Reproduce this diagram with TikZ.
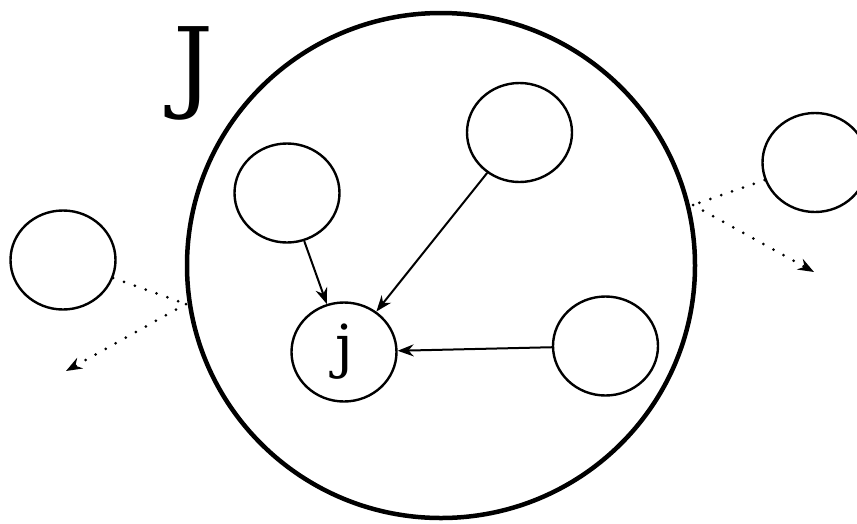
\documentclass[tikz,border=0pt]{standalone}
\usepackage{fontspec}
\setmainfont{DejaVu Serif}
\usetikzlibrary{shapes.geometric, arrows.meta}

\begin{document}
\begin{tikzpicture}[x = 1pt, y = -1pt]
	\tikzstyle {bubble} = [draw, ellipse, line width = 2.4pt, inner sep = 0pt, minimum width = 105pt, minimum height = 99pt];
	\tikzstyle {link} = [line width = 2pt, -{Stealth[length = 16pt, width = 12pt]}];
	\tikzstyle {leak} = [line width = 3pt, line cap = round, dash pattern = on 0pt off 11.5pt];
	\useasboundingbox (0, 0) rectangle (857, 523);
	\node[draw, ellipse, line width = 4.5pt, inner sep = 0pt, minimum width = 508pt, minimum height = 505pt] (group) at (441, 265.5) {};
	\node[anchor = base, inner sep = 0pt, font = \fontsize{100}{100}\selectfont] (grouplabel) at (194, 99) {J};
	\node[bubble, font = \fontsize{58}{58}\selectfont] (j) at (344, 352) {j};
	\node[bubble] (in1) at (287, 193) {};
	\node[bubble] (in2) at (519.5, 132.5) {};
	\node[bubble] (in3) at (605.5, 346) {};
	\node[bubble] (out1) at (63, 260) {};
	\node[bubble] (out2) at (815, 162.5) {};
	\foreach \src in {in1, in2, in3} {
			\draw[link] (\src) -- (j);
		}
	\coordinate (lp) at (186, 304);
	\coordinate (lend) at (66, 371);
	\coordinate (rp) at (693, 205);
	\coordinate (rend) at (814, 272);
	\draw[leak] (out1) -- (lp);
	\draw[leak, -{Stealth[length = 16pt, width = 12pt]}] (lp) -- (lend);
	\draw[leak] (out2) -- (rp);
	\draw[leak, -{Stealth[length = 16pt, width = 12pt]}] (rp) -- (rend);
\end{tikzpicture}
\end{document}
